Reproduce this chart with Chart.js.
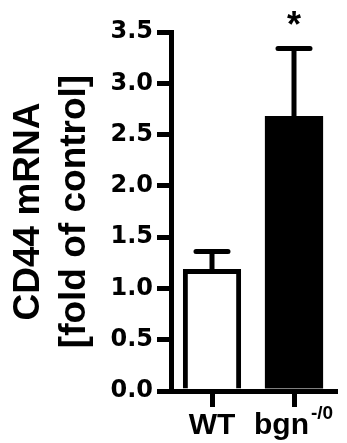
<!DOCTYPE html>
<html>
<head>
<meta charset="utf-8">
<script src="https://cdn.jsdelivr.net/npm/chart.js@4"></script>
<style>
  body { margin: 0; background: #fff; }
  #wrap { width: 347px; height: 443px; position: relative; }
</style>
</head>
<body>
<div id="wrap"><canvas id="chart"></canvas></div>
<script>
// values
const groups = ['WT', 'bgn'];
const groupSup = ['', '-/0'];
const means = [1.19, 2.68];
const sems = [0.17, 0.66];
const signif = ['', '*'];
const fills = ['#ffffff', '#000000'];

const yTitle = ['CD44 mRNA', '[fold of control]'];

// SEM whiskers, significance star and superscript on the x label
const extras = {
    id: 'extras',
    afterDatasetsDraw(chart) {
        const ctx = chart.ctx;
        const meta = chart.getDatasetMeta(0);
        const y = chart.scales.y;
        ctx.save();
        ctx.strokeStyle = '#000';
        ctx.lineWidth = 5;
        ctx.lineCap = 'round';
        meta.data.forEach((bar, i) => {
            const top = y.getPixelForValue(means[i] + sems[i]);
            ctx.beginPath();
            ctx.moveTo(bar.x, y.getPixelForValue(means[i]));
            ctx.lineTo(bar.x, top);
            ctx.moveTo(bar.x - 16, top);
            ctx.lineTo(bar.x + 16, top);
            ctx.stroke();
            if (signif[i]) {
                ctx.fillStyle = '#000';
                ctx.font = 'bold 36px "Liberation Sans", Arial, sans-serif';
                ctx.textAlign = 'center';
                ctx.textBaseline = 'alphabetic';
                ctx.fillText(signif[i], bar.x, top - 11);
            }
        });
        ctx.restore();
    },
    afterDraw(chart) {
        const ctx = chart.ctx;
        const x = chart.scales.x;
        ctx.save();
        ctx.fillStyle = '#000';
        groups.forEach((g, i) => {
            if (!groupSup[i]) return;
            ctx.font = 'bold 30px "Liberation Sans", Arial, sans-serif';
            const full = ctx.measureText(g + '   ').width;
            const base = ctx.measureText(g).width;
            const start = x.getPixelForTick(i) - full / 2 + base;
            ctx.font = 'bold 19px "Liberation Sans", Arial, sans-serif';
            ctx.textAlign = 'left';
            ctx.textBaseline = 'alphabetic';
            ctx.fillText(groupSup[i], start + 2, x.top + 28);
        });
        ctx.restore();
    }
};

new Chart(document.getElementById('chart'), {
    type: 'bar',
    data: {
        labels: groups,
        datasets: [{
            data: means,
            backgroundColor: fills,
            borderColor: '#000',
            borderWidth: [5, 0],
            barPercentage: 0.71,
            categoryPercentage: 1
        }]
    },
    options: {
        responsive: true,
        maintainAspectRatio: false,
        animation: false,
        layout: { padding: { top: 32, right: 12, left: 0, bottom: 0 } },
        plugins: {
            legend: { display: false },
            tooltip: { enabled: false }
        },
        scales: {
            x: {
                z: 1,
                grid: { offset: false, drawOnChartArea: false, tickLength: 16, lineWidth: 5, color: '#000' },
                border: { width: 5, color: '#000' },
                ticks: {
                    color: '#000',
                    padding: 1,
                    autoSkip: false,
                    maxRotation: 0,
                    minRotation: 0,
                    font: { family: '"Liberation Sans", Arial, sans-serif', size: 30, weight: 'bold' },
                    callback: function (v, i) { return groupSup[i] ? groups[i] + '   ' : groups[i]; }
                },
                afterFit: s => { s.height = 52; }
            },
            y: {
                z: 1,
                min: 0,
                max: 3.5,
                grid: { drawOnChartArea: false, tickLength: 14, lineWidth: 5, color: '#000' },
                border: { width: 5, color: '#000' },
                ticks: {
                    stepSize: 0.5,
                    color: '#000',
                    padding: 4,
                    font: { family: '"DejaVu Sans", sans-serif', size: 24, weight: 'bold' },
                    callback: v => v.toFixed(1)
                },
                title: {
                    display: true,
                    text: yTitle,
                    color: '#000',
                    padding: { top: 6, bottom: 0 },
                    font: { family: '"Liberation Sans", Arial, sans-serif', size: 37, weight: 'bold', lineHeight: 1.243 }
                },
                afterFit: s => { s.width = 171; }
            }
        }
    },
    plugins: [extras]
});
</script>
</body>
</html>
